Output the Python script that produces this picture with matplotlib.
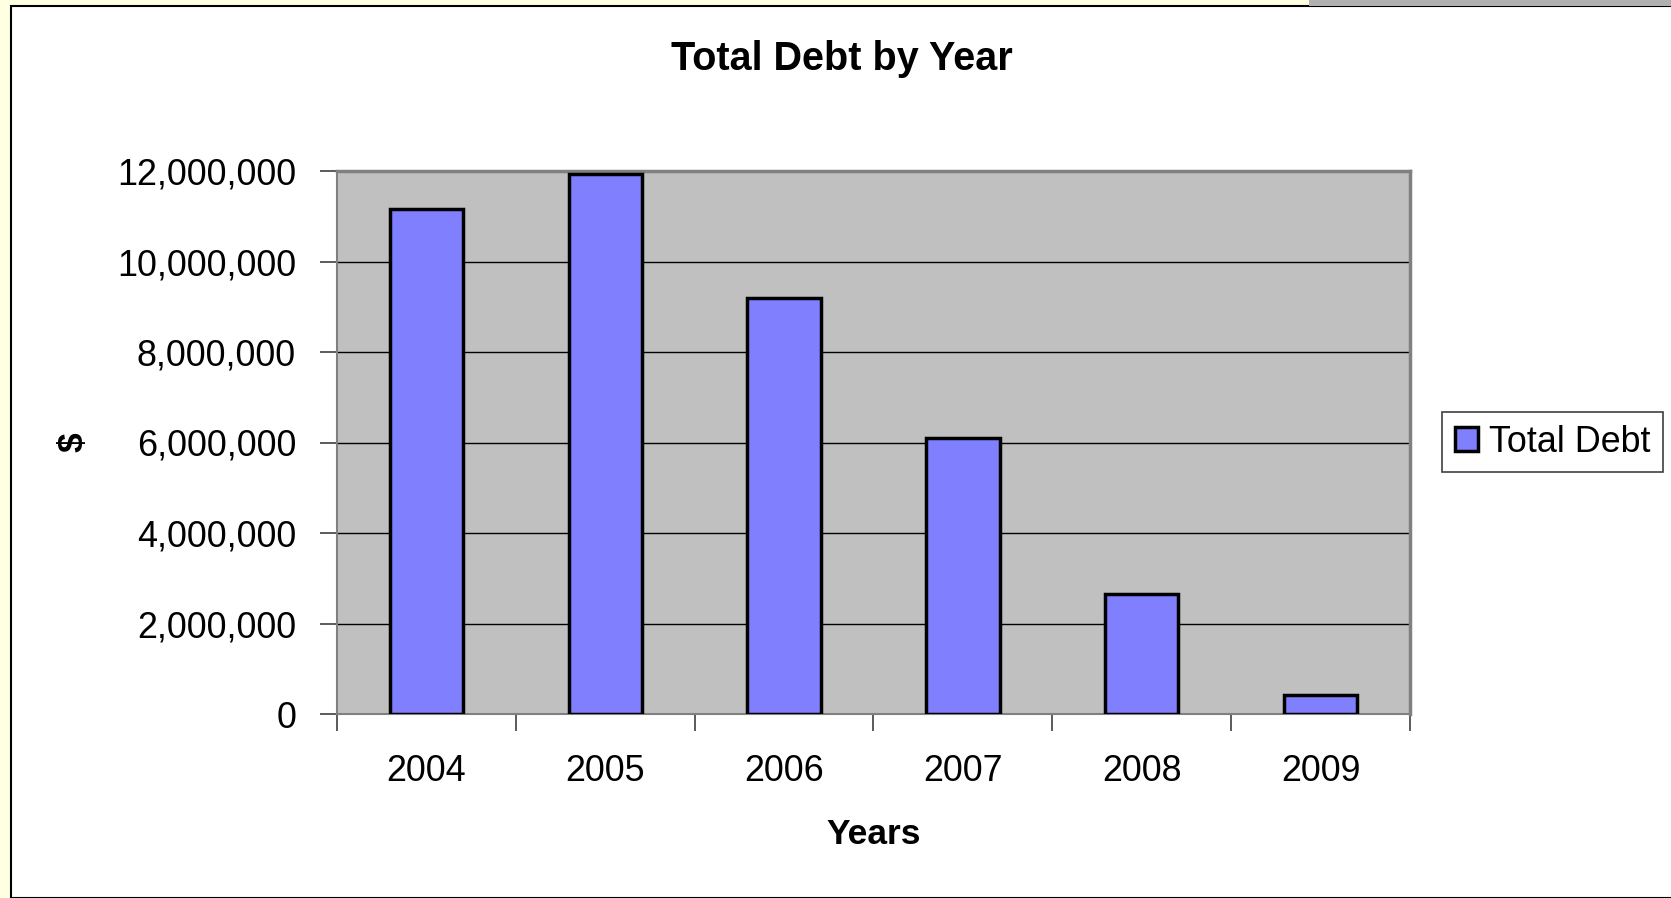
import matplotlib
matplotlib.use('Agg')
import matplotlib.pyplot as plt
from matplotlib.patches import Rectangle
from matplotlib.ticker import FixedLocator, StrMethodFormatter
import numpy as np

plt.rcParams['font.family'] = ['Liberation Sans', 'DejaVu Sans']

years = ['2004', '2005', '2006', '2007', '2008', '2009']
total_debt = [11150000, 11930000, 9200000, 6090000, 2660000, 430000]

W, H = 1671, 898
fig = plt.figure(figsize=(W / 100, H / 100), dpi=100)
fig.patch.set_facecolor('#FFFFE1')

# white chart sheet with black frame, grey strip at top right
fig.patches.append(Rectangle((11 / W, 0), 1, 1 - 6 / H, transform=fig.transFigure,
                             facecolor='white', edgecolor='black', lw=1.5, zorder=-2))
fig.patches.append(Rectangle((1309 / W, 1 - 6 / H), 1, 6 / H, transform=fig.transFigure,
                             facecolor='#B0B0B0', edgecolor='none', zorder=-2))

left, right, top, bottom = 337, 1410, 171, 714
ax = fig.add_axes([left / W, 1 - bottom / H, (right - left) / W, (bottom - top) / H])
ax.set_zorder(2)
ax.set_facecolor('#C0C0C0')

x = np.arange(len(years))
bars = ax.bar(x, total_debt, width=0.41, color='#8080FF', edgecolor='black',
              linewidth=2.5, label='Total Debt', zorder=3)

ax.set_xlim(-0.5, len(years) - 0.5)
ax.set_ylim(0, 12000000)
ax.set_yticks(np.arange(0, 12000001, 2000000))
ax.yaxis.set_major_formatter(StrMethodFormatter('{x:,.0f}'))
ax.yaxis.grid(True, color='black', lw=1, zorder=1)
ax.set_axisbelow(True)

# category boundaries get the tick marks, labels sit in the middle
ax.xaxis.set_major_locator(FixedLocator(np.arange(-0.5, len(years), 1.0)))
ax.xaxis.set_minor_locator(FixedLocator(x))
ax.xaxis.set_major_formatter(plt.NullFormatter())
ax.set_xticks(x, years, minor=True)
ax.tick_params(axis='x', which='major', length=12, width=1.2, color='#404040', direction='out')
ax.tick_params(axis='x', which='minor', length=0, pad=28.5, labelsize=25.8)
ax.tick_params(axis='y', length=12, width=1.2, color='#404040', direction='out',
               pad=17.5, labelsize=25.8)

for s in ['top', 'right']:
    ax.spines[s].set_color('#808080')
    ax.spines[s].set_linewidth(2.5)
for s in ['left', 'bottom']:
    ax.spines[s].set_color('#808080')
    ax.spines[s].set_linewidth(1.5)

ax.set_xlabel('Years', fontsize=25.5, fontweight='bold', va='baseline')
ax.xaxis.set_label_coords(0.5, -(844 - bottom) / (bottom - top))
ax.set_ylabel(r'\$', fontsize=25.5, fontweight='bold', va='center')
ax.yaxis.set_label_coords(-(left - 73) / (right - left), 0.5)

fig.text(842 / W, 1 - 70 / H, 'Total Debt by Year', fontsize=28.5, fontweight='bold',
         ha='center', va='baseline')

leg = fig.legend(handles=[bars], labels=['Total Debt'], loc='upper left',
                 bbox_to_anchor=(1442 / W, 1 - 412 / H), bbox_transform=fig.transFigure,
                 borderaxespad=0, fontsize=25.8, fancybox=False, framealpha=1,
                 edgecolor='#404040', handlelength=0.65, handleheight=0.65,
                 handletextpad=0.3, borderpad=0.35)
leg.get_frame().set_linewidth(1.2)

fig.savefig('out.png', dpi=100, facecolor=fig.get_facecolor())
